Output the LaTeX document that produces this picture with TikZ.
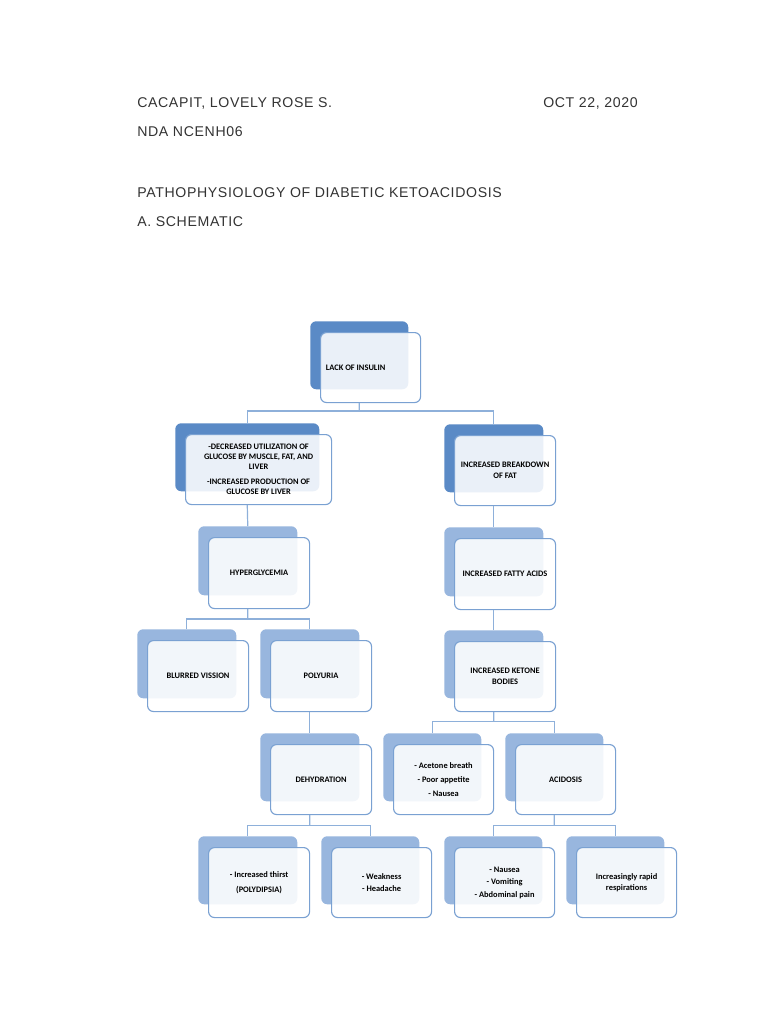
\documentclass[tikz,border=0pt]{standalone}
\usepackage{fontspec}
\setmainfont{Liberation Sans}[LetterSpace=4.5]
\newfontfamily\boxfont{Carlito}
\usetikzlibrary{calc}
\definecolor{darkback}{HTML}{5A8AC6}
\definecolor{lightback}{HTML}{98B6DE}
\definecolor{frontline}{HTML}{7AA1D2}
\definecolor{connline}{HTML}{8EB0DA}
\definecolor{headtext}{HTML}{333333}
\tikzset{
  backbox/.style={rectangle, rounded corners=4.5pt, draw=none, anchor=north west, inner sep=0pt},
  frontbox/.style={rectangle, rounded corners=4.5pt, draw=frontline, line width=0.85pt, fill=white, fill opacity=0.88, anchor=north west, inner sep=0pt},
  boxtext/.style={align=center, font=\boxfont\bfseries\fontsize{6.3}{8.4}\selectfont, text=black, inner sep=0pt},
  conn/.style={draw=connline, line width=0.9pt},
  head/.style={anchor=base west, inner sep=0pt, text=headtext, font=\fontsize{10.6}{12}\selectfont}
}
% name, left, top, width, height, back colour, text x-shift, text
\newcommand{\dkabox}[8]{%
  \node[backbox, fill=#6, minimum width=#4*0.75pt, minimum height=#5*0.75pt] (#1b) at (#2,#3) {};
  \node[frontbox, minimum width=(#4+2)*0.75pt, minimum height=(#5+2)*0.75pt] (#1) at (#2+10,#3+11) {};
  \node[boxtext] (#1t) at ($(#1.center)+(#7,0)$) {#8};
}
\begin{document}
\begin{tikzpicture}[x=0.75pt,y=-0.75pt]
\useasboundingbox[fill=white] (0,0) rectangle (768,1024);

\node[head] (name) at (137,108) {CACAPIT, LOVELY ROSE S.};
\node[head] (date) at (543,108) {OCT 22, 2020};
\node[head] (course) at (137,137) {NDA NCENH06};
\node[head] (title) at (137,197) {PATHOPHYSIOLOGY OF DIABETIC KETOACIDOSIS};
\node[head] (sub) at (137,226) {A. SCHEMATIC};

\dkabox{lack}{310}{321}{98}{68}{darkback}{-15}{LACK OF INSULIN}
\dkabox{dec}{175}{423}{144}{68}{darkback}{0}{-DECREASED UTILIZATION OF\\[-1pt]GLUCOSE BY MUSCLE, FAT, AND\\[-1pt]LIVER\\[3pt]-INCREASED PRODUCTION OF\\[-1pt]GLUCOSE BY LIVER}
\dkabox{brk}{444}{424}{99}{68}{darkback}{0}{INCREASED BREAKDOWN\\OF FAT}
\dkabox{hyp}{198}{526}{99}{69}{lightback}{0}{HYPERGLYCEMIA}
\dkabox{fat}{444}{527}{99}{69}{lightback}{0}{INCREASED FATTY ACIDS}
\dkabox{blur}{137}{629}{99}{69}{lightback}{0}{BLURRED VISSION}
\dkabox{poly}{260}{629}{99}{69}{lightback}{0}{POLYURIA}
\dkabox{ket}{444}{630}{99}{68}{lightback}{0}{INCREASED KETONE\\BODIES}
\dkabox{dehyd}{260}{733}{99}{68}{lightback}{0}{DEHYDRATION}
\dkabox{acet}{383}{733}{98}{68}{lightback}{0}{- Acetone breath\\[2pt]- Poor appetite\\[2pt]- Nausea}
\dkabox{acid}{505}{733}{98}{68}{lightback}{0}{ACIDOSIS}
\dkabox{thirst}{198}{836}{99}{68}{lightback}{0}{- Increased thirst\\[2.5pt](POLYDIPSIA)}
\dkabox{weak}{321}{836}{98}{68}{lightback}{0}{- Weakness\\[1pt]- Headache}
\dkabox{naus}{444}{836}{98}{68}{lightback}{0}{- Nausea\\[1pt]- Vomiting\\[1pt]- Abdominal pain}
\dkabox{rapid}{566}{836}{98}{68}{lightback}{0}{Increasingly rapid\\respirations}

% connectors
\coordinate (j1) at ($(lackb.south |- lack.south)!0.4!(lackb.south |- decb.north)$);
\draw[conn] (lackb.south |- lack.south) -- (j1);
\draw[conn] (decb.north) |- (j1) -| (brkb.north);
\draw[conn] (decb.south |- dec.south) -- (hypb.north);
\draw[conn] (brkb.south |- brk.south) -- (fatb.north);
\draw[conn] (fatb.south |- fat.south) -- (ketb.north);
\coordinate (j2) at ($(hypb.south |- hyp.south)!0.5!(hypb.south |- blurb.north)$);
\draw[conn] (hypb.south |- hyp.south) -- (j2);
\draw[conn] (blurb.north) |- (j2) -| (polyb.north);
\draw[conn] (polyb.south |- poly.south) -- (dehydb.north);
\coordinate (j3) at ($(ketb.south |- ket.south)!0.45!(ketb.south |- acetb.north)$);
\draw[conn] (ketb.south |- ket.south) -- (j3);
\draw[conn] (acetb.north) |- (j3) -| (acidb.north);
\coordinate (j4) at ($(dehydb.south |- dehyd.south)!0.5!(dehydb.south |- thirstb.north)$);
\draw[conn] (dehydb.south |- dehyd.south) -- (j4);
\draw[conn] (thirstb.north) |- (j4) -| (weakb.north);
\coordinate (j5) at ($(acidb.south |- acid.south)!0.5!(acidb.south |- nausb.north)$);
\draw[conn] (acidb.south |- acid.south) -- (j5);
\draw[conn] (nausb.north) |- (j5) -| (rapidb.north);
\end{tikzpicture}
\end{document}
